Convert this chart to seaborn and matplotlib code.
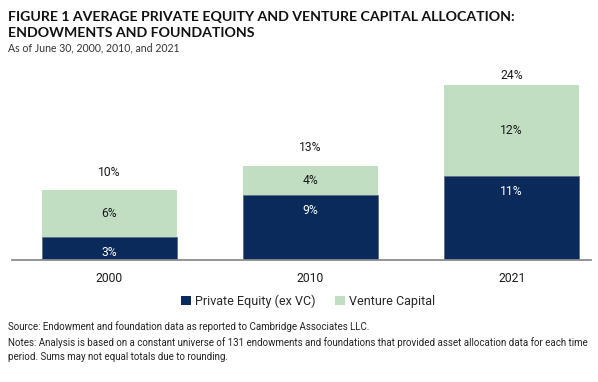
import matplotlib
matplotlib.use("Agg")
import matplotlib.pyplot as plt
from matplotlib import font_manager as fm
from matplotlib.patches import Patch
import seaborn as sns
import pandas as pd

years = ["2000", "2010", "2021"]
private_equity = [3.1, 8.9, 11.5]
venture_capital = [6.5, 4.0, 12.5]
pe_labels = ["3%", "9%", "11%"]
vc_labels = ["6%", "4%", "12%"]
total_labels = ["10%", "13%", "24%"]
series_names = ["Private Equity (ex VC)", "Venture Capital"]

title = "FIGURE 1 AVERAGE PRIVATE EQUITY AND VENTURE CAPITAL ALLOCATION:\nENDOWMENTS AND FOUNDATIONS"
subtitle = "As of June 30, 2000, 2010, and 2021"
source = "Source: Endowment and foundation data as reported to Cambridge Associates LLC."
notes = ("Notes: Analysis is based on a constant universe of 131 endowments and foundations that provided asset allocation data for each time\n"
         "period. Sums may not equal totals due to rounding.")

NAVY = "#0b2a5c"
GREEN = "#c1dec3"

sns.set_theme(style="white")
names = {f.name for f in fm.fontManager.ttflist}
body = "Liberation Sans Narrow" if "Liberation Sans Narrow" in names else "Roboto"
plt.rcParams["font.family"] = [body, "DejaVu Sans"]

df = pd.DataFrame({"year": years, "pe": private_equity, "vc": venture_capital})
df["total"] = df["pe"] + df["vc"]

W, H = 598, 382
fig = plt.figure(figsize=(W / 100, H / 100), dpi=100)
ax_left, ax_right, ax_bottom, ax_top = 12, 591, 260, 60
ax = fig.add_axes([ax_left / W, 1 - ax_bottom / H, (ax_right - ax_left) / W, (ax_bottom - ax_top) / H])

sns.barplot(data=df, x="year", y="pe", color=NAVY, width=0.67, ax=ax,
            edgecolor="#5d6b80", linewidth=0.6, saturation=1)
sns.barplot(data=df, x="year", y="vc", bottom=df["pe"], color=GREEN, width=0.67, ax=ax,
            linewidth=0, saturation=1)

ymax = (ax_bottom - ax_top) / 7.29
ax.set_ylim(0, ymax)
ax.set_xlim(-0.483, 2.394)
ax.set_xlabel("")
ax.set_ylabel("")
ax.set_yticks([])
for s in ["left", "right", "top"]:
    ax.spines[s].set_visible(False)
ax.spines["bottom"].set_color("#8c8c8c")
ax.spines["bottom"].set_linewidth(1.3)
ax.tick_params(axis="x", length=0, pad=9, labelsize=8.7, labelcolor="#1a1a1a")

top_offsets = [18, 18, 10]
for i in range(len(years)):
    pe = df["pe"][i]
    vc = df["vc"][i]
    tot = df["total"][i]
    ax.annotate(pe_labels[i], (i, pe), xytext=(0, -15.5), textcoords="offset pixels",
                ha="center", va="center", color="white", fontsize=8.7)
    ax.annotate(vc_labels[i], (i, pe + vc / 2), ha="center", va="center",
                color="#1a1a1a", fontsize=8.7)
    ax.annotate(total_labels[i], (i, tot), xytext=(0, top_offsets[i]), textcoords="offset pixels",
                ha="center", va="center", color="#1a1a1a", fontsize=8.7)

handles = [Patch(facecolor=NAVY, edgecolor="none"), Patch(facecolor=GREEN, edgecolor="none")]
fig.legend(handles, series_names, loc="center", bbox_to_anchor=(308 / W, 1 - 301 / H),
           ncol=2, frameon=False, fontsize=9.0, handlelength=0.8, handleheight=0.8,
           handletextpad=0.3, columnspacing=1.6)

fig.text(8 / W, 1 - 25 / H, title, fontsize=10.2, fontweight="bold", family=["Lato", "DejaVu Sans"],
         color="#111111", va="center", ha="left", linespacing=1.35)
fig.text(8 / W, 1 - 48 / H, subtitle, fontsize=7.6, family=["Lato", "DejaVu Sans"],
         color="#333333", va="center", ha="left")
fig.text(8 / W, 1 - 327 / H, source, fontsize=7, color="#222222", va="center", ha="left")
fig.text(8 / W, 1 - 349.5 / H, notes, fontsize=7, color="#222222", va="center", ha="left",
         linespacing=1.6)

fig.savefig("out.png", dpi=100)
